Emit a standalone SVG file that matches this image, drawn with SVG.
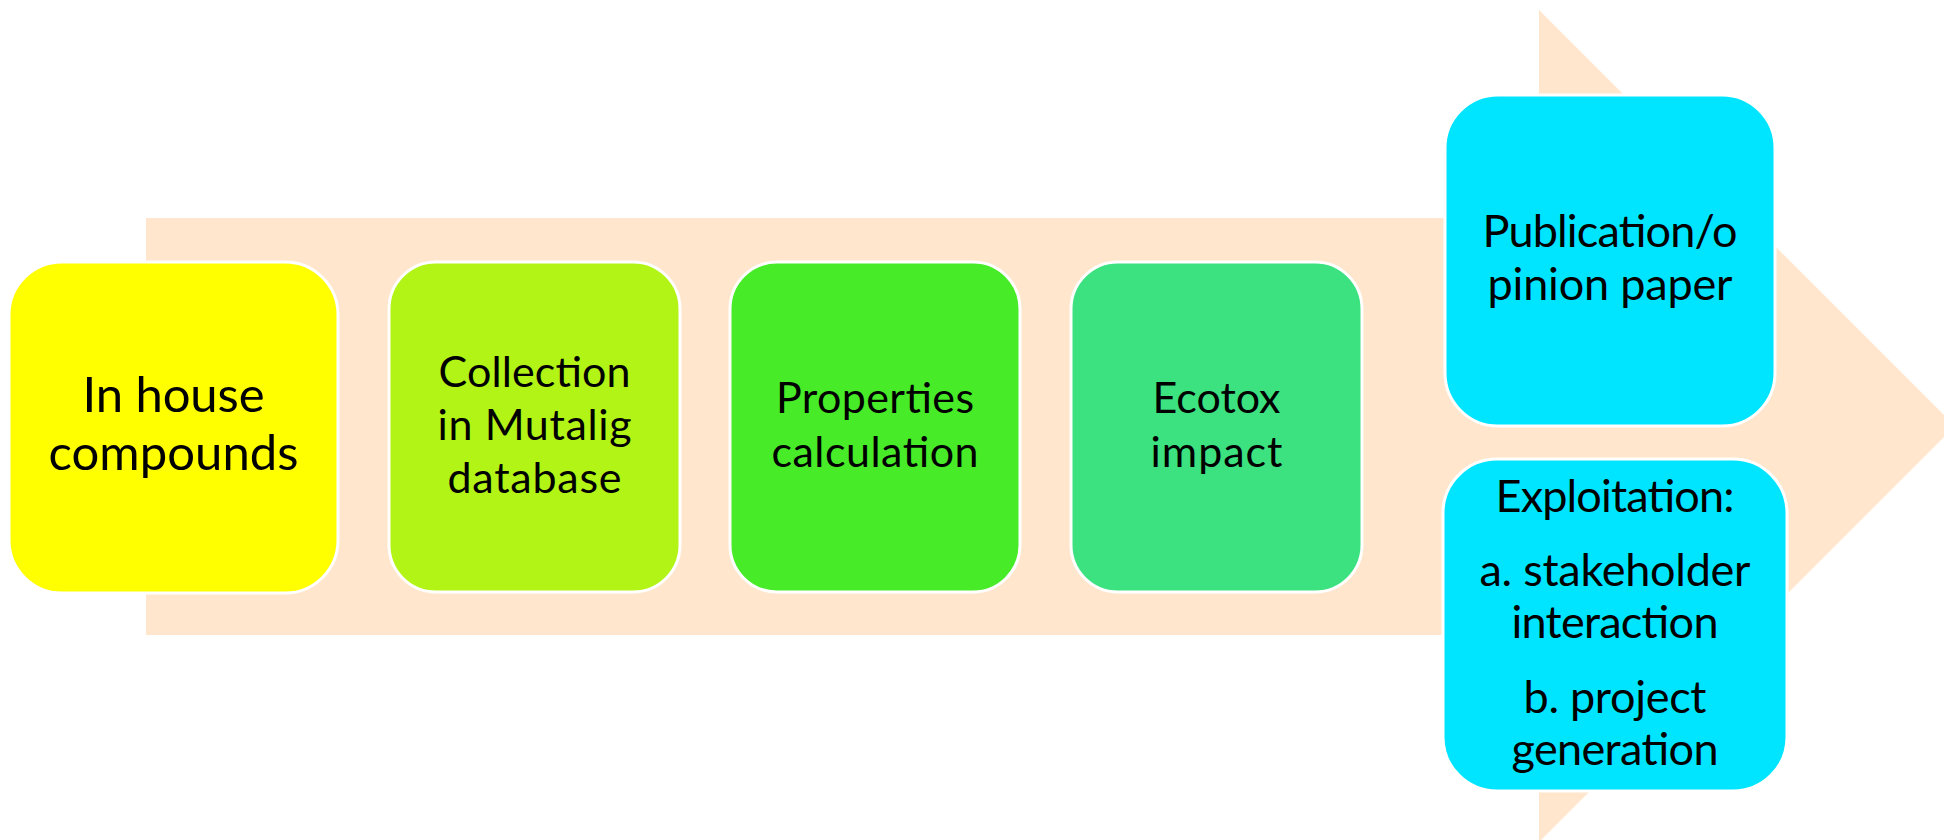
<svg xmlns="http://www.w3.org/2000/svg" width="1944" height="840" viewBox="0 0 1944 840">
  <style>
    .step { stroke: #ffffff; stroke-width: 3; }
    .label { font-family: Lato, "Open Sans", "Liberation Sans", sans-serif; fill: #000000; text-anchor: middle; }
    .big { font-size: 49px; }
    .mid { font-size: 43px; }
    .end { font-size: 45px; }
  </style>

  <!-- Background block arrow -->
  <g id="flow-arrow">
    <path d="M146 218 H1539 V10 L1955 426 L1539 842 V635 H146 Z" fill="#FFE6CC"/>
  </g>

  <g id="connectors"></g>

  <g id="node-in-house">
    <rect class="step" x="9" y="262" width="329" height="331" rx="53" fill="#FFFF00"/>
    <text class="label big" x="173.5" y="412" textLength="182">In house</text>
    <text class="label big" x="173.5" y="470" textLength="250">compounds</text>
  </g>

  <g id="node-collection">
    <rect class="step" x="389" y="262" width="291" height="330" rx="47" fill="#B2F416"/>
    <text class="label mid" x="534.5" y="387" textLength="192">Collection</text>
    <text class="label mid" x="534.5" y="440" textLength="194">in Mutalig</text>
    <text class="label mid" x="534.5" y="493" textLength="174">database</text>
  </g>

  <g id="node-properties">
    <rect class="step" x="730" y="262" width="290" height="330" rx="47" fill="#47EB28"/>
    <text class="label mid" x="875" y="413" textLength="198">Properties</text>
    <text class="label mid" x="875" y="467" textLength="207">calculation</text>
  </g>

  <g id="node-ecotox">
    <rect class="step" x="1071" y="262" width="291" height="330" rx="47" fill="#3BE27F"/>
    <text class="label mid" x="1216.5" y="413" textLength="128">Ecotox</text>
    <text class="label mid" x="1216.5" y="467" textLength="132">impact</text>
  </g>

  <g id="node-publication">
    <rect class="step" x="1445" y="95" width="330" height="331" rx="53" fill="#00E5FF"/>
    <text class="label end" x="1610" y="247" textLength="255">Publication/o</text>
    <text class="label end" x="1610" y="300" textLength="245">pinion paper</text>
  </g>

  <g id="node-exploitation">
    <rect class="step" x="1443" y="459" width="344" height="332" rx="54" fill="#00E5FF"/>
    <text class="label end" x="1615" y="512" textLength="239">Exploitation:</text>
    <text class="label end" x="1615" y="586" textLength="271">a. stakeholder</text>
    <text class="label end" x="1615" y="638" textLength="207">interaction</text>
    <text class="label end" x="1615" y="713" textLength="183">b. project</text>
    <text class="label end" x="1615" y="765" textLength="207">generation</text>
  </g>
</svg>
